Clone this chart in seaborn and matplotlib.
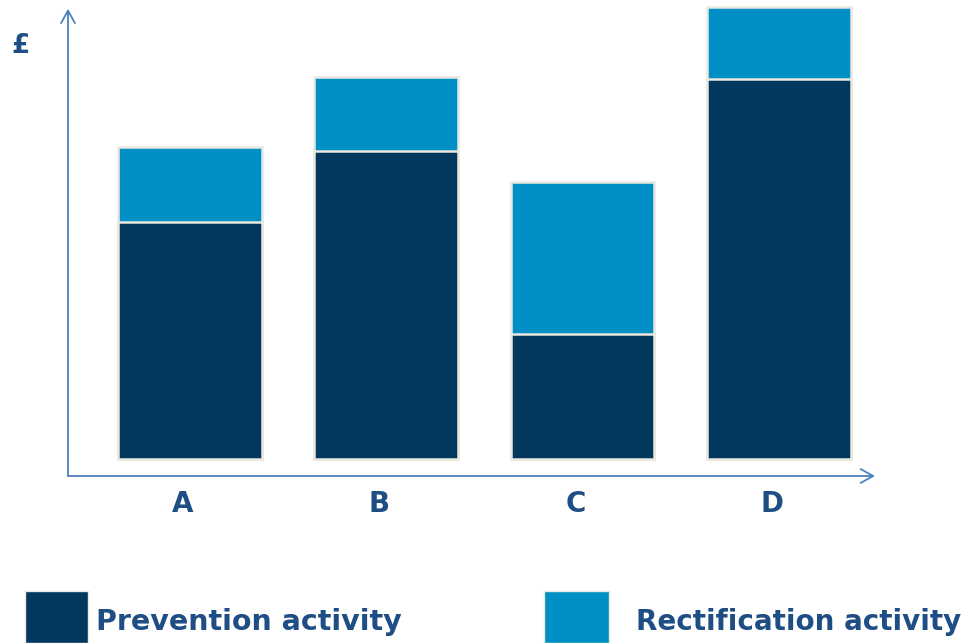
import matplotlib
matplotlib.use("Agg")
import matplotlib.pyplot as plt
import matplotlib.transforms as mtransforms
from matplotlib.patches import Rectangle
import pandas as pd
import seaborn as sns

# values (arbitrary £ units, bars have no scale)
categories = ['A', 'B', 'C', 'D']
prevention = [237, 308, 125, 380]
rectification = [75, 74, 152, 72]
legend_labels = ['Prevention activity', 'Rectification activity']

dark = '#02385e'
light = '#0090c6'
text_col = '#1f4e85'
axis_col = '#4f81bd'
edge_col = '#ebe8df'

df = pd.DataFrame({'category': categories,
                   'prevention': prevention,
                   'rectification': rectification})
df['total'] = df['prevention'] + df['rectification']

sns.set_style('white')
plt.rcParams['font.family'] = ['DejaVu Sans']

fig = plt.figure(figsize=(9.67, 6.43), dpi=100)
ax = fig.add_axes([68 / 967, 1 - 476 / 643, (875 - 68) / 967, (476 - 5) / 643])

# stacked bars: total first, prevention drawn on top
sns.barplot(data=df, x='category', y='total', color=light, saturation=1,
            width=0.733, edgecolor=edge_col, linewidth=1.8, ax=ax)
sns.barplot(data=df, x='category', y='prevention', color=dark, saturation=1,
            width=0.733, edgecolor=edge_col, linewidth=1.8, ax=ax)

ax.set_xlim(-0.6215, 3.49)
ax.set_ylim(-17, 454)
for s in ax.spines.values():
    s.set_visible(False)
ax.set_yticks([])
ax.set_xlabel('')
ax.set_ylabel('')
ax.tick_params(axis='x', length=0, pad=10)
shift = mtransforms.ScaledTranslation(-7 / 100, 0, fig.dpi_scale_trans)
for lbl in ax.get_xticklabels():
    lbl.set_fontsize(20)
    lbl.set_fontweight('bold')
    lbl.set_color(text_col)
    lbl.set_transform(lbl.get_transform() + shift)

# axis arrows
arrow = dict(arrowstyle='->,head_length=0.9,head_width=0.5', color=axis_col, lw=1.3,
             shrinkA=0, shrinkB=0)
ax.annotate('', xy=(0, 0.992), xytext=(0, 0), xycoords='axes fraction', arrowprops=arrow)
ax.annotate('', xy=(1, 0), xytext=(0, 0), xycoords='axes fraction', arrowprops=arrow)

fig.text(21 / 967, 1 - 46 / 643, '£', fontsize=19, fontweight='bold', color=text_col,
         ha='center', va='center')

# legend
fig.patches.append(Rectangle((25 / 967, 0), 63 / 967, 52 / 643, transform=fig.transFigure,
                             facecolor=dark, edgecolor=edge_col, lw=1))
fig.patches.append(Rectangle((544 / 967, 0), 65 / 967, 52 / 643, transform=fig.transFigure,
                             facecolor=light, edgecolor=edge_col, lw=1))
fig.text(96 / 967, 1 - 622 / 643, legend_labels[0], fontsize=20.5, fontweight='bold',
         color=text_col, ha='left', va='center')
fig.text(636 / 967, 1 - 622 / 643, legend_labels[1], fontsize=20, fontweight='bold',
         color=text_col, ha='left', va='center')

fig.savefig('out.png', dpi=100)
